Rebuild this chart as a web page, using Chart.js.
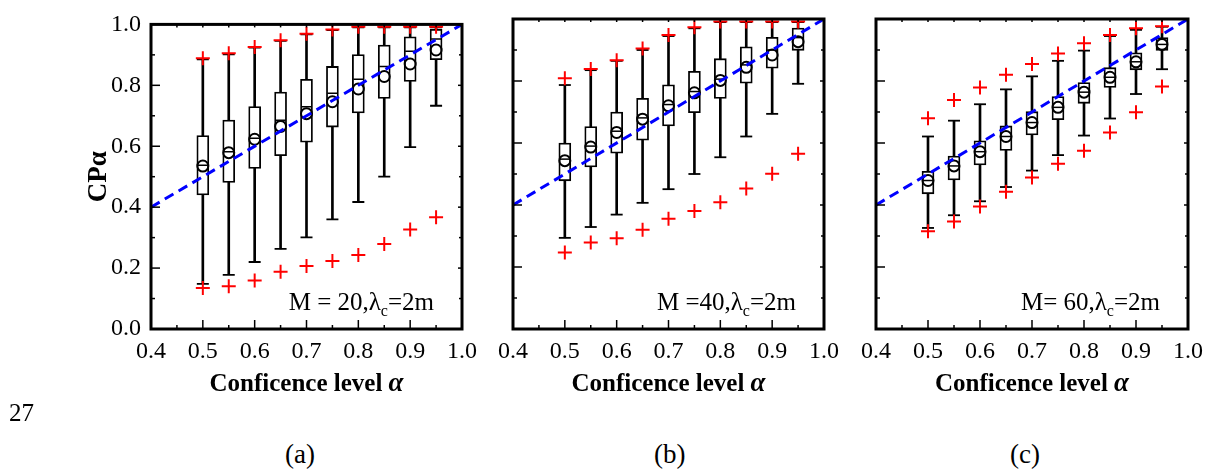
<!DOCTYPE html>
<html lang="en">
<head>
    <meta charset="UTF-8">
    <title>CP alpha vs confidence level</title>
    <script src="https://cdn.jsdelivr.net/npm/chart.js"></script>
    <style>
        * { margin: 0; padding: 0; box-sizing: border-box; }
        body { background: #fff; font-family: 'Liberation Serif', serif; }
        #wrap { position: relative; width: 1211px; height: 476px; }
        canvas { position: absolute; top: 0; }
        .cap { position: absolute; font-size: 27px; line-height: 1; color: #000; }
    </style>
</head>
<body>
<div id="wrap">
    <canvas id="chartA" width="490" height="400" style="left:0"></canvas>
    <canvas id="chartB" width="360" height="400" style="left:490px"></canvas>
    <canvas id="chartC" width="361" height="400" style="left:850px"></canvas>
    <div class="cap" style="left:9px;top:400px;font-size:25px">27</div>
    <div class="cap" style="left:285px;top:441px">(a)</div>
    <div class="cap" style="left:654px;top:441px">(b)</div>
    <div class="cap" style="left:1010px;top:441px">(c)</div>
</div>

<script>
    // confidence levels (x positions of the boxes)
    const alphas = [0.5, 0.55, 0.6, 0.65, 0.7, 0.75, 0.8, 0.85, 0.9, 0.95];
    const xTicks = [0.4, 0.5, 0.6, 0.7, 0.8, 0.9, 1.0];
    const yTicks = [0.0, 0.2, 0.4, 0.6, 0.8, 1.0];
    const diagX = [0.4, 1.0];
    const diagY = [0.4, 1.0];

    // (a) M = 20
    const aQ1   = [0.440, 0.481, 0.527, 0.569, 0.613, 0.663, 0.709, 0.757, 0.813, 0.884];
    const aQ3   = [0.635, 0.686, 0.730, 0.778, 0.820, 0.862, 0.901, 0.932, 0.959, 0.984];
    const aMed  = [0.538, 0.582, 0.626, 0.685, 0.730, 0.774, 0.820, 0.862, 0.912, 0.952];
    const aMean = [0.535, 0.579, 0.623, 0.665, 0.707, 0.746, 0.788, 0.829, 0.870, 0.916];
    const aLow  = [0.148, 0.178, 0.220, 0.263, 0.301, 0.360, 0.417, 0.500, 0.597, 0.733];
    const aHigh = [0.885, 0.902, 0.924, 0.946, 0.967, 0.981, 0.990, 0.990, 0.990, 0.990];
    const aMin  = [0.135, 0.140, 0.159, 0.188, 0.207, 0.223, 0.243, 0.279, 0.327, 0.367];
    const aMax  = [0.889, 0.905, 0.926, 0.948, 0.969, 0.983, 0.992, 0.992, 0.992, 0.992];

    // (b) M = 40
    const bQ1   = [0.478, 0.523, 0.567, 0.609, 0.655, 0.698, 0.744, 0.793, 0.841, 0.899];
    const bQ3   = [0.600, 0.653, 0.700, 0.744, 0.788, 0.831, 0.872, 0.910, 0.941, 0.971];
    const bMed  = [0.548, 0.590, 0.638, 0.681, 0.724, 0.766, 0.806, 0.852, 0.900, 0.940];
    const bMean = [0.543, 0.587, 0.634, 0.677, 0.720, 0.762, 0.802, 0.844, 0.884, 0.927];
    const bLow  = [0.294, 0.329, 0.369, 0.407, 0.451, 0.500, 0.554, 0.621, 0.694, 0.791];
    const bHigh = [0.787, 0.835, 0.865, 0.900, 0.945, 0.970, 0.990, 0.990, 0.990, 0.990];
    const bMin  = [0.247, 0.279, 0.293, 0.320, 0.356, 0.381, 0.409, 0.453, 0.501, 0.565];
    const bMax  = [0.809, 0.839, 0.867, 0.905, 0.948, 0.973, 0.992, 0.992, 0.992, 0.992];

    // (c) M = 60
    const cQ1   = [0.436, 0.481, 0.529, 0.576, 0.626, 0.675, 0.728, 0.779, 0.836, 0.899];
    const cQ3   = [0.509, 0.558, 0.607, 0.655, 0.701, 0.750, 0.795, 0.843, 0.891, 0.940];
    const cMed  = [0.479, 0.526, 0.572, 0.621, 0.666, 0.715, 0.764, 0.812, 0.862, 0.918];
    const cMean = [0.479, 0.526, 0.572, 0.621, 0.666, 0.715, 0.764, 0.812, 0.862, 0.918];
    const cLow  = [0.326, 0.367, 0.412, 0.458, 0.511, 0.561, 0.624, 0.679, 0.758, 0.838];
    const cHigh = [0.621, 0.672, 0.725, 0.773, 0.815, 0.865, 0.898, 0.945, 0.965, 0.975];
    const cMin  = [0.315, 0.347, 0.395, 0.443, 0.489, 0.533, 0.575, 0.634, 0.699, 0.782];
    const cMax  = [0.680, 0.739, 0.779, 0.820, 0.855, 0.889, 0.922, 0.948, 0.970, 0.977];

    const serif = "'Liberation Serif', 'Times New Roman', serif";

    function pts(ys) {
        return alphas.map((x, i) => ({ x: x, y: ys[i] }));
    }
    function spans(lo, hi) {
        return alphas.map((x, i) => ({ x: x, y: [lo[i], hi[i]] }));
    }

    // frame, inward ticks, x title and the M/lambda note
    const framePlugin = {
        id: 'frame',
        afterDraw(chart, args, opts) {
            const { ctx, chartArea: ca, scales: { x, y } } = chart;
            const seg = (x1, y1, x2, y2) => { ctx.beginPath(); ctx.moveTo(x1, y1); ctx.lineTo(x2, y2); ctx.stroke(); };
            ctx.save();
            ctx.strokeStyle = '#000';
            ctx.lineWidth = 1.5;

            y.ticks.forEach((t, i) => {
                const py = y.getPixelForValue(t.value);
                seg(ca.left, py, ca.left + 9, py);
                seg(ca.right, py, ca.right - 4, py);
                if (i > 0) {
                    const pm = y.getPixelForValue((t.value + y.ticks[i - 1].value) / 2);
                    seg(ca.left, pm, ca.left + 4, pm);
                    seg(ca.right, pm, ca.right - 3, pm);
                }
            });
            x.ticks.forEach((t, i) => {
                const px = x.getPixelForValue(t.value);
                seg(px, ca.bottom, px, ca.bottom - 9);
                seg(px, ca.top, px, ca.top + 3);
                if (i > 0) {
                    const pm = x.getPixelForValue((t.value + x.ticks[i - 1].value) / 2);
                    seg(pm, ca.bottom, pm, ca.bottom - 4);
                    seg(pm, ca.top, pm, ca.top + 3);
                }
            });

            ctx.lineWidth = 3;
            ctx.strokeRect(ca.left, ca.top, ca.width, ca.height);

            // note: M = xx, lambda_c = 2m
            ctx.fillStyle = '#000';
            ctx.textBaseline = 'alphabetic';
            ctx.textAlign = 'left';
            const big = '25px ' + serif, small = '16px ' + serif;
            ctx.font = big;
            const w1 = ctx.measureText(opts.note).width;
            const w3 = ctx.measureText('=2m').width;
            ctx.font = small;
            const w2 = ctx.measureText('c').width;
            let tx = ca.right - 28 - (w1 + w2 + w3);
            const by = ca.bottom - 19;
            ctx.font = big;
            ctx.fillText(opts.note, tx, by);
            tx += w1;
            ctx.font = small;
            ctx.fillText('c', tx, by + 6);
            tx += w2;
            ctx.font = big;
            ctx.fillText('=2m', tx, by);

            // x axis title with italic alpha
            const tFont = 'bold 25px ' + serif, aFont = 'italic bold 27px ' + serif;
            ctx.font = tFont;
            const t1 = 'Conficence level ';
            const tw1 = ctx.measureText(t1).width;
            ctx.font = aFont;
            const tw2 = ctx.measureText('α').width;
            let sx = (ca.left + ca.right) / 2 - (tw1 + tw2) / 2;
            const ty = 391;
            ctx.font = tFont;
            ctx.fillText(t1, sx, ty);
            ctx.font = aFont;
            ctx.fillText('α', sx + tw1, ty);
            ctx.restore();
        }
    };

    function makeChart(id, d, note, layoutPad, yWidth, showY) {
        const black = '#000';
        return new Chart(document.getElementById(id), {
            type: 'bar',
            data: {
                datasets: [
                    {
                        type: 'line', data: diagX.map((x, i) => ({ x: x, y: diagY[i] })),
                        borderColor: '#0000ff', borderWidth: 3, borderDash: [10, 6],
                        pointRadius: 0, order: -2
                    },
                    {
                        type: 'scatter', data: pts(d.min).concat(pts(d.max)),
                        pointStyle: 'crossRot', rotation: 45, pointRadius: 7, borderColor: '#ff0000',
                        borderWidth: 2, backgroundColor: '#ff0000', clip: 0, order: -1
                    },
                    {
                        type: 'scatter', data: pts(d.mean),
                        pointStyle: 'circle', pointRadius: 5.5, borderColor: black, borderWidth: 2,
                        backgroundColor: 'rgba(0,0,0,0)', order: 0
                    },
                    {
                        type: 'scatter', data: pts(d.med),
                        pointStyle: 'line', pointRadius: 5, borderColor: black, borderWidth: 1.5, order: 1
                    },
                    {
                        type: 'scatter', data: pts(d.low).concat(pts(d.high)),
                        pointStyle: 'line', pointRadius: 6, borderColor: black, borderWidth: 1.8, order: 2
                    },
                    {
                        type: 'bar', data: spans(d.q1, d.q3),
                        backgroundColor: '#fff', borderColor: black, borderWidth: 1.8,
                        borderSkipped: false, barThickness: 12, grouped: false, order: 3
                    },
                    {
                        type: 'bar', data: spans(d.low, d.high),
                        backgroundColor: black, borderWidth: 0,
                        barThickness: 2, grouped: false, order: 4
                    }
                ]
            },
            options: {
                responsive: false,
                animation: false,
                events: [],
                layout: { padding: layoutPad },
                plugins: {
                    legend: { display: false },
                    tooltip: { enabled: false },
                    frame: { note: note }
                },
                scales: {
                    x: {
                        type: 'linear', min: 0.4, max: 1.0, offset: false,
                        afterBuildTicks: s => { s.ticks = xTicks.map(v => ({ value: v })); },
                        afterFit: s => { s.height = 71; },
                        grid: { display: false, drawTicks: false, offset: false },
                        border: { display: false },
                        ticks: {
                            padding: 8, color: black, maxRotation: 0, autoSkip: false,
                            font: { family: serif, size: 24 },
                            callback: v => Number(v).toFixed(1)
                        }
                    },
                    y: {
                        type: 'linear', min: 0, max: 1,
                        afterBuildTicks: s => { s.ticks = yTicks.map(v => ({ value: v })); },
                        afterFit: s => { s.width = yWidth; },
                        grid: { display: false, drawTicks: false },
                        border: { display: false },
                        title: {
                            display: showY, text: 'CPα', color: black,
                            font: { family: serif, size: 27, weight: 'bold' },
                            padding: { top: 0, bottom: 0 }
                        },
                        ticks: {
                            display: showY, padding: 10, color: black,
                            font: { family: serif, size: 24 },
                            callback: v => Number(v).toFixed(1)
                        }
                    }
                }
            },
            plugins: [framePlugin]
        });
    }

    makeChart('chartA',
        { q1: aQ1, q3: aQ3, med: aMed, mean: aMean, low: aLow, high: aHigh, min: aMin, max: aMax },
        'M = 20,λ', { left: 83, right: 28, top: 19, bottom: 0 }, 68, true);
    makeChart('chartB',
        { q1: bQ1, q3: bQ3, med: bMed, mean: bMean, low: bLow, high: bHigh, min: bMin, max: bMax },
        'M =40,λ', { left: 0, right: 26, top: 19, bottom: 0 }, 23, false);
    makeChart('chartC',
        { q1: cQ1, q3: cQ3, med: cMed, mean: cMean, low: cLow, high: cHigh, min: cMin, max: cMax },
        'M= 60,λ', { left: 0, right: 23, top: 19, bottom: 0 }, 26, false);
</script>
</body>
</html>
